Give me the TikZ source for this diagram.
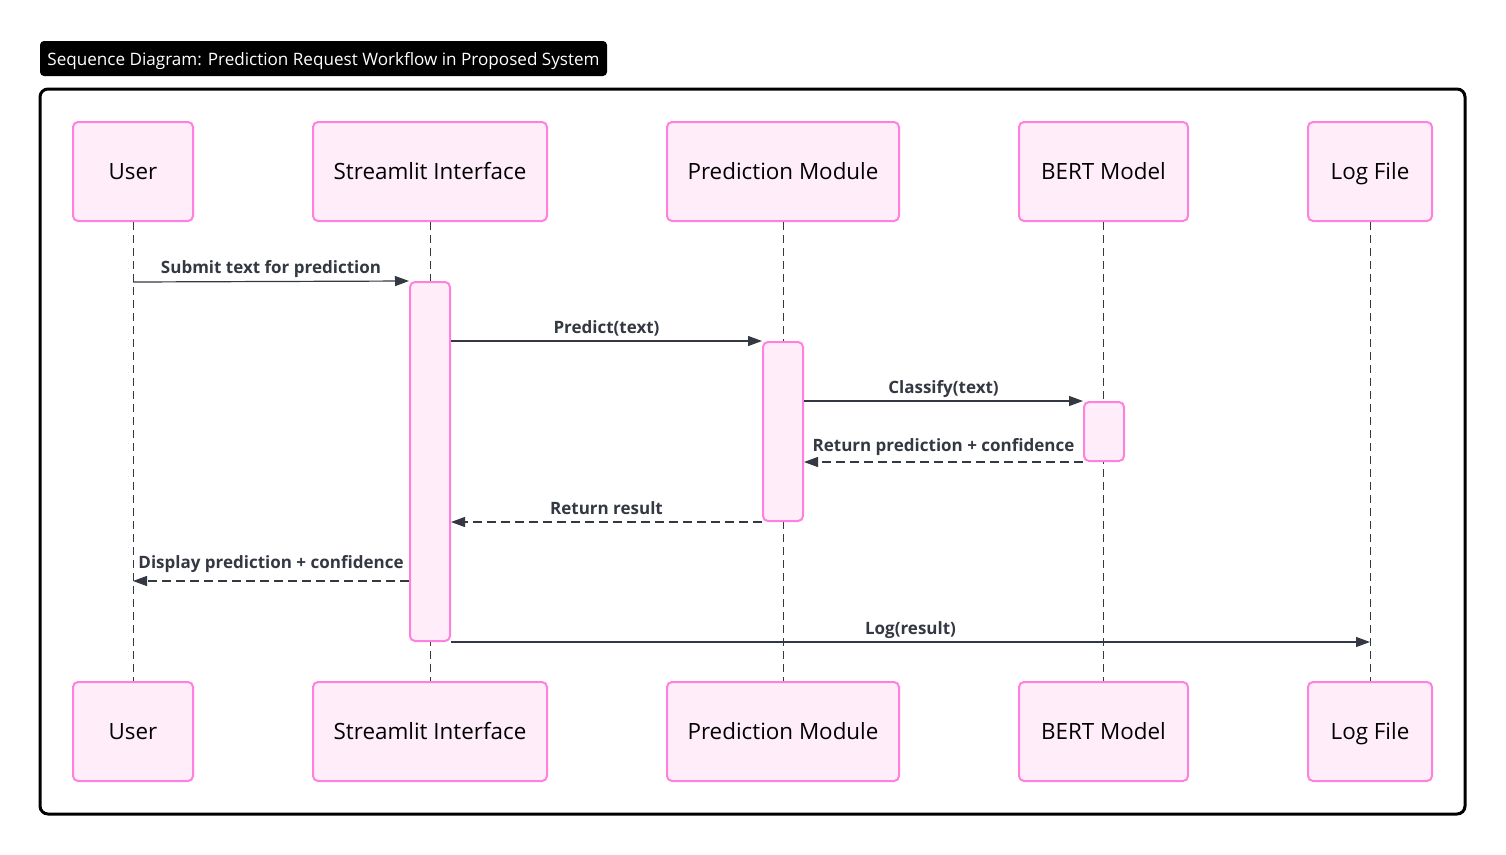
\documentclass[tikz,border=0pt]{standalone}
\usepackage{fontspec}
\setmainfont{Open Sans}
\definecolor{sqPink}{HTML}{FF80DF}
\definecolor{sqPinkLight}{HTML}{FFEEF9}
\definecolor{sqInk}{HTML}{333842}
\usetikzlibrary{arrows.meta}

\begin{document}
\begin{tikzpicture}[x=1pt, y=-1pt,
  actor/.style={draw=sqPink, fill=sqPinkLight, line width=2pt, rounded corners=5pt,
    minimum height=99pt, inner sep=0pt, text height=18pt, text depth=2pt,
    font=\fontsize{22.4}{26}\selectfont},
  actbar/.style={draw=sqPink, fill=sqPinkLight, line width=2pt, rounded corners=5pt,
    minimum width=40pt, inner sep=0pt},
  lifeline/.style={sqInk, line width=0.9pt, dash pattern=on 8pt off 5pt},
  msg/.style={sqInk, line width=1.2pt, -{Triangle[length=14pt, width=10pt]}},
  reply/.style={msg, dash pattern=on 9pt off 5pt},
  msglabel/.style={midway, anchor=base, yshift=8pt, inner sep=0pt, text=sqInk,
    font=\bfseries\fontsize{17}{20}\selectfont}]
  \useasboundingbox (0,0) rectangle (1506,854);

  % Title and frame
  \node[fill=black, text=white, rounded corners=4pt, minimum width=567pt, minimum height=35pt,
    inner sep=0pt, text height=13pt, text depth=0pt, font=\fontsize{17.1}{20}\selectfont]
    (title) at (323.5,58.5)
    {Sequence Diagram: Prediction Request Workflow in Proposed System};
  \draw[line width=3pt, rounded corners=8pt] (40,89) rectangle (1465,814);

  % Participants, top row
  \node[actor, minimum width=120pt] (usrTop) at (133,171.5) {User};
  \node[actor, minimum width=234pt] (stTop)  at (430,171.5) {Streamlit Interface};
  \node[actor, minimum width=232pt] (pmTop)  at (783,171.5) {Prediction Module};
  \node[actor, minimum width=169pt] (bmTop)  at (1103.5,171.5) {BERT Model};
  \node[actor, minimum width=124pt] (logTop) at (1370,171.5) {Log File};

  % Participants, bottom row
  \node[actor, minimum width=120pt] (usrBot) at (133,731.5) {User};
  \node[actor, minimum width=234pt] (stBot)  at (430,731.5) {Streamlit Interface};
  \node[actor, minimum width=232pt] (pmBot)  at (783,731.5) {Prediction Module};
  \node[actor, minimum width=169pt] (bmBot)  at (1103.5,731.5) {BERT Model};
  \node[actor, minimum width=124pt] (logBot) at (1370,731.5) {Log File};

  % Lifelines
  \draw[lifeline] (usrTop) -- (usrBot);
  \draw[lifeline] (stTop) -- (stBot);
  \draw[lifeline] (pmTop) -- (pmBot);
  \draw[lifeline] (bmTop.south -| bmBot) -- (bmBot);
  \draw[lifeline] (logTop) -- (logBot);

  % Activations
  \node[actbar, minimum height=359pt] (actSt) at (430,461.5) {};
  \node[actbar, minimum height=179pt] (actPm) at (783,431.5) {};
  \node[actbar, minimum height=59pt]  (actBm) at (1104,431.5) {};

  % Free ends on the user lifeline
  \coordinate (usrSend) at (133,282);
  \coordinate (usrRecv) at (133,581);

  % Messages
  \draw[msg] (usrSend) -- (actSt.north west)
    node[msglabel] {Submit text for prediction};
  \draw[msg] (actSt.east |- actPm.north) -- (actPm.north west)
    node[msglabel] {Predict(text)};
  \draw[msg] (actPm.east |- actBm.north) -- (actBm.north west)
    node[msglabel] {Classify(text)};
  \draw[reply] (actBm.south west) -- (actPm.east |- actBm.south)
    node[msglabel, yshift=3pt] {Return prediction + confidence};
  \draw[reply] (actPm.south west) -- (actSt.east |- actPm.south)
    node[msglabel] {Return result};
  \draw[reply] (actSt.west |- usrRecv) -- (usrRecv)
    node[msglabel, yshift=5pt] {Display prediction + confidence};
  \draw[msg] (actSt.south east) -- (actSt.south east -| logTop)
    node[msglabel] {Log(result)};

\end{tikzpicture}
\end{document}
